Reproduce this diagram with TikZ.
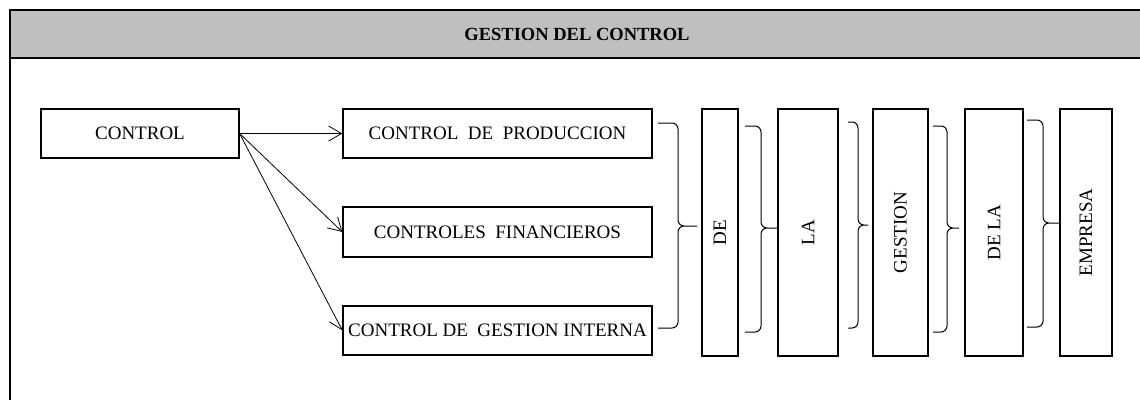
\documentclass[tikz,border=0pt]{standalone}
\usepackage{fontspec}
\setmainfont{Liberation Serif}
\usetikzlibrary{arrows.meta}

\begin{document}
\begin{tikzpicture}[
  x=1pt,y=-1pt,
  box/.style={draw,line width=1.2pt,inner sep=0pt,minimum height=49pt,
    font=\fontsize{19}{22}\selectfont},
  vbox/.style={box,rotate=90,minimum width=247pt},
  arr/.style={-{Straight Barb[length=13pt,width=15pt]},line width=0.8pt},
  brace/.style={line width=1pt,rounded corners=6pt},
  title/.style={font=\fontsize{18.5}{22}\selectfont\bfseries},
]
\useasboundingbox (0,0) rectangle (1140,399);

% === Header band and frame ===
\fill[gray!50] (10,10) rectangle (1141,58);
\draw[line width=2pt] (1141,10) -- (10,10) -- (10,400);
\draw[line width=2pt] (10,58) -- (1141,58);
\node[title] (head) at (577,34) {GESTION DEL CONTROL};

% === Left: control and its three kinds ===
\node[box,minimum width=198pt] (ctrl) at (140,133.5) {CONTROL};
\node[box,minimum width=309pt] (prod) at (497.5,133.5) {CONTROL~~DE~~PRODUCCION};
\node[box,minimum width=309pt,minimum height=50pt] (fin) at (497.5,232) {CONTROLES~~FINANCIEROS};
\node[box,minimum width=309pt] (inter) at (497.5,330.5) {CONTROL DE~~GESTION INTERNA};

\draw[arr] (ctrl.east) -- (prod.west);
\draw[arr] (ctrl.east) -- (fin.west);
\draw[arr] (ctrl.east) -- (inter.west);

% === Right: vertical words ===
\node[vbox,minimum height=36pt] (de) at (720,232.5) {DE};
\node[vbox,minimum height=60pt] (la) at (808,232.5) {LA};
\node[vbox,minimum height=55pt] (gest) at (900.5,232.5) {GESTION};
\node[vbox,minimum height=58pt] (dela) at (994,232.5) {DE LA};
\node[vbox,minimum height=52pt] (emp) at (1086,232.5) {EMPRESA};

% Braces
\draw[brace] (658,123) -| (678,226) -- (697,226) (697,226) -- (678,226) |- (658,328);
\draw[brace] (745,126) -| (761,228) -- (777,228) (777,228) -- (761,228) |- (745,332);
\draw[brace] (848,122) -| (858,225) -- (868,225) (868,225) -- (858,225) |- (848,328);
\draw[brace] (933,126) -| (947,228) -- (959,228) (959,228) -- (947,228) |- (933,332);
\draw[brace] (1027,120) -| (1043,223) -- (1059,223) (1059,223) -- (1043,223) |- (1027,327);

\end{tikzpicture}
\end{document}
